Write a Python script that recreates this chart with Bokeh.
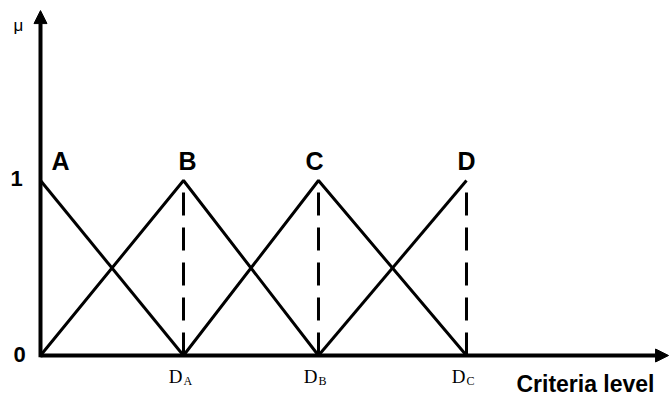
from bokeh.plotting import figure
from bokeh.models import Range1d, Arrow, NormalHead
from bokeh.core.properties import value
from bokeh.embed import file_html
from bokeh.resources import INLINE

# ---- data ----
labels = ["A", "B", "C", "D"]
peaks = [0.0, 1.0, 1.944, 2.979]          # criteria level of each peak
tick_main = ["D", "D", "D"]
tick_sub = ["A", "B", "C"]
tick_pos = peaks[1:]
mu_top = 1.0
x_axis_end = 4.392
y_axis_end = 1.971

p = figure(width=670, height=399, output_backend="svg", toolbar_location=None,
           x_axis_type=None, y_axis_type=None, min_border=0,
           x_range=Range1d(-0.2797, 4.4056), y_range=Range1d(-0.2514, 2.0286))
p.outline_line_color = None
p.xgrid.visible = False
p.ygrid.visible = False

# axes with arrow heads
p.add_layout(Arrow(x_start=0, y_start=0, x_end=x_axis_end, y_end=0, line_width=4,
                   end=NormalHead(size=13, fill_color="black", line_color="black")))
p.add_layout(Arrow(x_start=0, y_start=-0.01, x_end=0, y_end=y_axis_end, line_width=4,
                   end=NormalHead(size=13, fill_color="black", line_color="black")))

# triangular membership functions
for i in range(len(peaks)):
    xs, ys = [], []
    if i > 0:
        xs.append(peaks[i - 1]); ys.append(0)
    xs.append(peaks[i]); ys.append(mu_top)
    if i < len(peaks) - 1:
        xs.append(peaks[i + 1]); ys.append(0)
    p.line(xs, ys, line_color="black", line_width=3)

# dashed verticals
for xp in tick_pos:
    p.line([xp, xp], [0, mu_top], line_color="black", line_width=3, line_dash="23 12")

# letter labels
p.text(x=peaks, y=[mu_top] * 4, text=labels, x_offset=[20, 4, -4, 0], y_offset=-20,
       text_align="center", text_baseline="alphabetic", text_font=value("Liberation Sans"),
       text_font_style="bold", text_font_size="25px", text_color="black")

# y labels
p.text(x=[0, 0], y=[mu_top, 0], text=["1", "0"], x_offset=[-24, -21], y_offset=[-2, -1],
       text_align="center", text_baseline="alphabetic", text_font=value("Liberation Sans"),
       text_font_style="bold", text_font_size="22px", text_color="black")
p.text(x=[0], y=[y_axis_end], text=["μ"], x_offset=-22, y_offset=15,
       text_align="center", text_baseline="alphabetic", text_font=value("Liberation Sans"),
       text_font_size="17px", text_color="black")

# tick labels with subscripts
p.text(x=tick_pos, y=[0] * 3, text=tick_main, x_offset=-1, y_offset=21,
       text_align="right", text_baseline="alphabetic", text_font=value("Liberation Serif"),
       text_font_size="19px", text_color="black")
p.text(x=tick_pos, y=[0] * 3, text=tick_sub, x_offset=0, y_offset=25,
       text_align="left", text_baseline="alphabetic", text_font=value("Liberation Serif"),
       text_font_size="12px", text_color="black")

# axis title
p.text(x=[3.811], y=[0], text=["Criteria level"], y_offset=28,
       text_align="center", text_baseline="alphabetic", text_font=value("Liberation Sans"),
       text_font_style="bold", text_font_size="23px", text_color="black")

open("out.html", "w").write(file_html(p, INLINE))
